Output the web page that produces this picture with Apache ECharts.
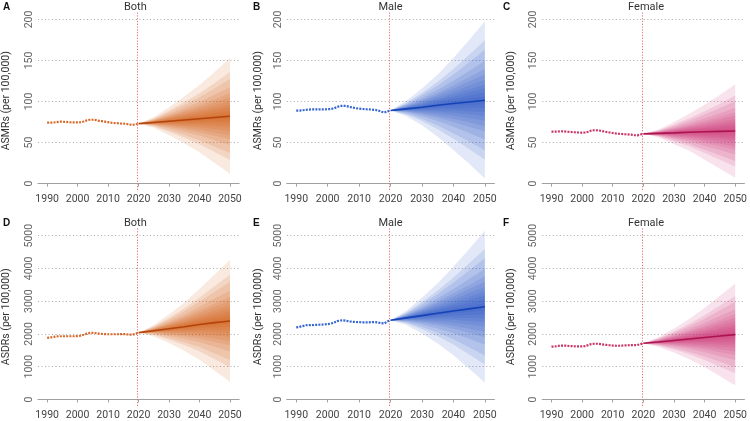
<!DOCTYPE html>
<html>
<head>
<meta charset="utf-8">
<script src="https://cdn.jsdelivr.net/npm/echarts@6/dist/echarts.min.js"></script>
<style>
  html, body { margin: 0; padding: 0; background: #fff; }
  #main { width: 750px; height: 421px; }
</style>
</head>
<body>
<div id="main"></div>
<script>
// years
const histYears = [1990, 1991, 1992, 1993, 1994, 1995, 1996, 1997, 1998, 1999,
  2000, 2001, 2002, 2003, 2004, 2005, 2006, 2007, 2008, 2009,
  2010, 2011, 2012, 2013, 2014, 2015, 2016, 2017, 2018, 2019, 2020];
const projYears = [2020, 2025, 2030, 2035, 2040, 2045, 2050];
const xTicks = [1990, 2000, 2010, 2020, 2030, 2040, 2050];
const asmrTicks = [0, 50, 100, 150, 200];
const asdrTicks = [0, 1000, 2000, 3000, 4000, 5000];
// fan: share of the outer half-width for each band, outer first
const fanLevels = [1.0, 0.76, 0.64, 0.5, 0.4, 0.33, 0.26, 0.2, 0.15, 0.1, 0.05];

// ASMR, both
const asmrBothHist = [74.2, 74.2, 74.4, 74.8, 75.4, 75.4, 75.2, 74.8, 74.6, 74.6, 74.6, 74.8, 75.6, 77.0, 77.8,
  77.8, 77.4, 76.4, 76.0, 75.4, 74.8, 74.2, 73.8, 73.6, 73.2, 73.0, 72.8, 72.0, 71.4, 72.2, 73.0];
const asmrBothMean = [73, 74.5, 76, 77.5, 79, 80.5, 82];
const asmrBothUpper = [73, 81, 93, 106, 120, 136, 153];
const asmrBothLower = [73, 68, 59, 49, 38, 25, 12];
// ASMR, male
const asmrMaleHist = [88.8, 89.0, 89.3, 89.9, 90.2, 90.4, 90.4, 90.4, 90.5, 90.5, 90.6, 90.9, 91.6, 93.4, 94.6,
  94.8, 94.5, 93.4, 92.6, 91.8, 91.3, 90.9, 90.6, 90.4, 90.2, 89.8, 89.2, 87.6, 86.6, 88.0, 89.0];
const asmrMaleMean = [89, 91, 93, 95.5, 97.5, 99.5, 101.5];
const asmrMaleUpper = [89, 101, 116, 133, 153, 175, 198];
const asmrMaleLower = [89, 82, 71, 57, 41, 24, 6];
// ASMR, female
const asmrFemaleHist = [63.2, 63.2, 63.4, 63.8, 63.6, 63.2, 62.9, 62.6, 62.3, 62.2, 62.1, 62.3, 63.2, 64.6, 65.0,
  64.9, 64.4, 63.6, 62.8, 62.2, 61.6, 61.1, 60.7, 60.4, 60.1, 59.9, 59.6, 59.1, 58.7, 59.8, 60.6];
const asmrFemaleMean = [60.6, 61.2, 61.8, 62.5, 63.1, 63.6, 64];
const asmrFemaleUpper = [60.6, 66, 75, 85, 96, 108, 121];
const asmrFemaleLower = [60.6, 56, 48, 40, 29, 18, 7];

// ASDR, both
const asdrBothHist = [1880, 1890, 1910, 1925, 1930, 1930, 1930, 1930, 1930, 1930, 1935, 1945, 1975, 2010, 2030,
  2035, 2025, 2010, 2000, 1995, 1990, 1990, 1990, 1990, 1995, 1995, 1990, 1980, 1975, 2010, 2040];
const asdrBothMean = [2040, 2100, 2160, 2220, 2290, 2345, 2395];
const asdrBothUpper = [2040, 2275, 2600, 2955, 3370, 3815, 4255];
const asdrBothLower = [2040, 1925, 1720, 1485, 1210, 875, 540];
// ASDR, male
const asdrMaleHist = [2200, 2215, 2240, 2265, 2270, 2270, 2275, 2280, 2285, 2290, 2300, 2315, 2345, 2390, 2410,
  2415, 2400, 2380, 2370, 2365, 2360, 2355, 2355, 2355, 2360, 2360, 2350, 2330, 2320, 2380, 2420];
const asdrMaleMean = [2420, 2490, 2560, 2630, 2700, 2765, 2830];
const asdrMaleUpper = [2420, 2710, 3105, 3550, 4050, 4595, 5150];
const asdrMaleLower = [2420, 2270, 2015, 1710, 1350, 935, 510];
// ASDR, female
const asdrFemaleHist = [1610, 1615, 1630, 1645, 1645, 1640, 1630, 1625, 1620, 1620, 1620, 1630, 1660, 1690, 1700,
  1700, 1690, 1675, 1665, 1655, 1645, 1640, 1640, 1645, 1650, 1655, 1660, 1660, 1660, 1690, 1715];
const asdrFemaleMean = [1715, 1755, 1800, 1845, 1890, 1935, 1980];
const asdrFemaleUpper = [1715, 1905, 2165, 2460, 2790, 3165, 3535];
const asdrFemaleLower = [1715, 1605, 1435, 1230, 990, 705, 425];

const FONT = 'Roboto, "Noto Sans", sans-serif';
const colLeft = [31.6, 286.8, 542.3];
const colWidth = 207.5;

const colors = {
  Both:   { fan: '#d4550a', line: '#b4440c', dot: '#d8692a' },
  Male:   { fan: '#1f4fc4', line: '#1443b8', dot: '#3566d2' },
  Female: { fan: '#c8286a', line: '#ad1350', dot: '#c93569' }
};

const panels = [
  { letter: 'A', sex: 'Both', row: 0, hist: asmrBothHist, mean: asmrBothMean, upper: asmrBothUpper, lower: asmrBothLower },
  { letter: 'B', sex: 'Male', row: 0, hist: asmrMaleHist, mean: asmrMaleMean, upper: asmrMaleUpper, lower: asmrMaleLower },
  { letter: 'C', sex: 'Female', row: 0, hist: asmrFemaleHist, mean: asmrFemaleMean, upper: asmrFemaleUpper, lower: asmrFemaleLower },
  { letter: 'D', sex: 'Both', row: 1, hist: asdrBothHist, mean: asdrBothMean, upper: asdrBothUpper, lower: asdrBothLower },
  { letter: 'E', sex: 'Male', row: 1, hist: asdrMaleHist, mean: asdrMaleMean, upper: asdrMaleUpper, lower: asdrMaleLower },
  { letter: 'F', sex: 'Female', row: 1, hist: asdrFemaleHist, mean: asdrFemaleMean, upper: asdrFemaleUpper, lower: asdrFemaleLower }
];

const rows = [
  { top: 11.3, height: 178.8, min: -8, max: 210, ticks: asmrTicks, name: 'ASMRs (per 100,000)', titleY: 7 },
  { top: 227.5, height: 179.8, min: -200, max: 5250, ticks: asdrTicks, name: 'ASDRs (per 100,000)', titleY: 223.5 }
];
const nameGaps = [26, 23, 25];

function plain(v) { return String(v); }

const grid = [], xAxis = [], yAxis = [], series = [], graphic = [];

panels.forEach(function (p, i) {
  const col = i % 3;
  const r = rows[p.row];
  const c = colors[p.sex];
  grid.push({ left: colLeft[col], top: r.top, width: colWidth, height: r.height });

  xAxis.push({
    type: 'value', gridIndex: i, min: 1987, max: 2053,
    axisLine: { show: true, lineStyle: { color: '#a0a0a0', width: 1.2 } },
    axisTick: { show: true, length: 3, customValues: xTicks, lineStyle: { color: '#a0a0a0' } },
    axisLabel: { customValues: xTicks, formatter: plain, color: '#444', fontSize: 10.5, fontFamily: FONT, margin: 4 },
    splitLine: { show: false }
  });

  yAxis.push({
    type: 'value', gridIndex: i, min: r.min, max: r.max,
    name: r.name, nameLocation: 'middle', nameRotate: 90, nameGap: nameGaps[col],
    nameTextStyle: { color: '#333', fontSize: 10.5, fontFamily: FONT },
    axisLine: { show: false },
    axisTick: { show: false, customValues: r.ticks },
    axisLabel: { customValues: r.ticks, formatter: plain, rotate: 90, color: '#666', fontSize: 10.5, fontFamily: FONT, margin: 3 },
    splitLine: { show: true, lineStyle: { color: '#a8a8a8', type: [1, 2.5], width: 1 } }
  });

  // fan bands
  series.push({
    type: 'custom', xAxisIndex: i, yAxisIndex: i, silent: true, z: 1,
    data: fanLevels.map(function (f, k) { return [2035, 0, k]; }),
    encode: { x: 0, y: 1 },
    renderItem: function (params, api) {
      const f = fanLevels[params.dataIndex];
      const top = projYears.map(function (yr, j) {
        return api.coord([yr, p.mean[j] + f * (p.upper[j] - p.mean[j])]);
      });
      const bot = projYears.map(function (yr, j) {
        return api.coord([yr, p.mean[j] - f * (p.mean[j] - p.lower[j])]);
      }).reverse();
      return {
        type: 'polygon',
        shape: { points: top.concat(bot) },
        style: { fill: c.fan, opacity: 0.13 }
      };
    }
  });

  // mean projection
  series.push({
    type: 'line', xAxisIndex: i, yAxisIndex: i, z: 3, silent: true,
    data: projYears.map(function (yr, j) { return [yr, p.mean[j]]; }),
    symbol: 'none', lineStyle: { color: c.line, width: 1.6 }
  });

  // history, dotted, with the 2020 marker
  series.push({
    type: 'line', xAxisIndex: i, yAxisIndex: i, z: 4, silent: true,
    data: histYears.map(function (yr, j) { return [yr, p.hist[j]]; }),
    symbol: 'none', lineStyle: { color: c.dot, width: 2.2, type: [2, 1.2], cap: 'butt' },
    markLine: {
      silent: true, symbol: 'none', label: { show: false },
      lineStyle: { color: '#ee6a6a', type: [1.2, 1.6], width: 1, opacity: 1 },
      emphasis: { disabled: true },
      data: [{ xAxis: 2019.5 }]
    }
  });

  graphic.push({
    type: 'text', left: col * 250 + 3, top: r.titleY - 5,
    style: { text: p.letter, fontSize: 10, fontWeight: 'bold', fill: '#111', fontFamily: 'Liberation Sans, Arial, sans-serif' }
  });
  graphic.push({
    type: 'text', x: colLeft[col] + colWidth / 2, y: r.titleY,
    style: { text: p.sex, fontSize: 11, fill: '#333', fontFamily: FONT, textAlign: 'center', textVerticalAlign: 'middle' }
  });
});

const chart = echarts.init(document.getElementById('main'), null, { renderer: 'canvas' });
chart.setOption({
  backgroundColor: '#fff',
  animation: false,
  grid: grid,
  xAxis: xAxis,
  yAxis: yAxis,
  series: series,
  graphic: graphic
});
</script>
</body>
</html>
